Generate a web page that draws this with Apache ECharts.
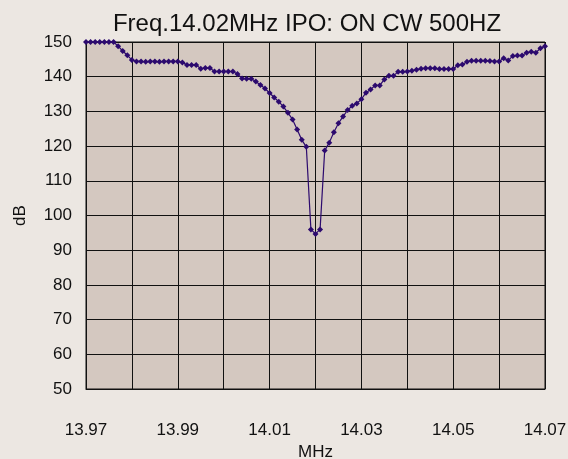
<!DOCTYPE html>
<html>
<head>
<meta charset="utf-8">
<script src="https://cdn.jsdelivr.net/npm/echarts@6/dist/echarts.min.js"></script>
<style>
  html, body { margin: 0; padding: 0; background: #ece7e2; }
  #chart { width: 568px; height: 459px; }
</style>
</head>
<body>
<div id="chart"></div>
<script>
// sweep start / step (MHz) and the measured levels (dB), one per step
const freqStart = 13.97
const freqStep = 0.001
const levels = [
  150, 150, 150, 150, 150, 150, 150, 148.8, 147.4, 146.2,
  144.8, 144.4, 144.4, 144.3, 144.4, 144.4, 144.3, 144.4, 144.4, 144.4,
  144.4, 144.1, 143.4, 143.4, 143.4, 142.3, 142.5, 142.5, 141.5, 141.5,
  141.5, 141.5, 141.5, 140.8, 139.5, 139.4, 139.4, 138.6, 137.6, 136.6,
  135.3, 134.0, 132.8, 131.4, 129.6, 127.7, 124.8, 121.8, 119.8, 96.0,
  94.7, 96.0, 118.7, 121.0, 124.0, 126.6, 128.5, 130.4, 131.6, 132.3,
  133.5, 135.4, 136.3, 137.5, 137.5, 139.2, 140.3, 140.3, 141.4, 141.4,
  141.5, 141.7, 142.0, 142.3, 142.4, 142.4, 142.4, 142.2, 142.2, 142.2,
  142.2, 143.3, 143.5, 144.3, 144.6, 144.6, 144.6, 144.6, 144.5, 144.4,
  144.4, 145.3, 144.7, 146.0, 146.1, 146.1, 146.9, 147.2, 146.9, 148.2,
  148.8
]
const titleText = 'Freq.14.02MHz IPO: ON CW 500HZ'
const xName = 'MHz'
const yName = 'dB'

const font = 'Liberation Sans, Arial, Helvetica, sans-serif'
const chart = echarts.init(document.getElementById('chart'))

chart.setOption({
  backgroundColor: '#ece7e2',
  animation: false,
  title: {
    text: titleText,
    left: 302,
    textAlign: 'center',
    top: 7,
    textStyle: { fontFamily: font, fontSize: 24, fontWeight: 'normal', color: '#111' }
  },
  grid: {
    left: 86,
    right: 23,
    top: 42,
    bottom: 70,
    outerBoundsMode: 'none',
    containLabel: false,
    show: true,
    backgroundColor: '#d4c8c0',
    borderColor: '#111',
    borderWidth: 1
  },
  xAxis: {
    type: 'value',
    min: 13.97,
    max: 14.07,
    interval: 0.01,
    name: xName,
    nameLocation: 'middle',
    nameGap: 54,
    nameTextStyle: { fontFamily: font, fontSize: 17, color: '#111' },
    axisLine: { lineStyle: { color: '#111' } },
    axisTick: { show: false },
    axisLabel: {
      margin: 33,
      fontFamily: font,
      fontSize: 17,
      color: '#111',
      showMinLabel: true,
      showMaxLabel: true,
      formatter: v => (Math.round(v * 100) % 2 === 1 ? v.toFixed(2) : '')
    },
    splitLine: { show: true, lineStyle: { color: '#111', width: 1 } }
  },
  yAxis: {
    type: 'value',
    min: 50,
    max: 150,
    interval: 10,
    name: yName,
    nameLocation: 'middle',
    nameGap: 57,
    nameTextStyle: { fontFamily: font, fontSize: 17, color: '#111' },
    axisLine: { show: true, lineStyle: { color: '#111' } },
    axisTick: { show: false },
    axisLabel: { margin: 14, fontFamily: font, fontSize: 17, color: '#111' },
    splitLine: { show: true, lineStyle: { color: '#111', width: 1 } }
  },
  series: [
    {
      type: 'line',
      data: levels.map((v, i) => [freqStart + i * freqStep, v]),
      symbol: 'diamond',
      symbolSize: 6,
      showAllSymbol: true,
      lineStyle: { color: '#2c0a6e', width: 1.2 },
      itemStyle: { color: '#2c0a6e' }
    }
  ]
})
</script>
</body>
</html>
